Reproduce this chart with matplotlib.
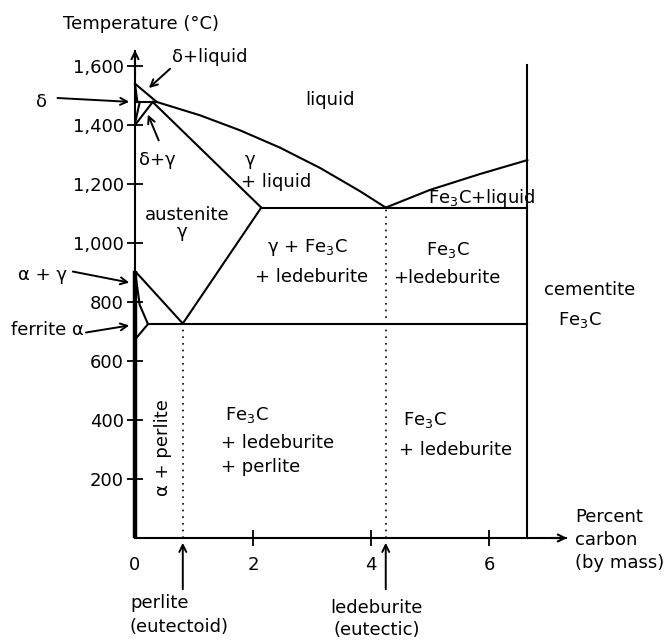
import numpy as np
from matplotlib import pyplot as plt

plt.rcParams['font.family'] = ['DejaVu Sans']
plt.rcParams['mathtext.default'] = 'regular'
FS = 13

# phase boundaries (wt% C, deg C)
liquidus_x = [0, 0.37, 1.10, 1.78, 2.46, 3.14, 3.81, 4.25]
liquidus_T = [1540, 1478, 1433, 1382, 1323, 1254, 1176, 1120]
fe3c_liq_x = [4.25, 5.0, 5.85, 6.65]
fe3c_liq_T = [1120, 1180, 1234, 1281]
solidus_x = [0.3, 2.14]
solidus_T = [1478, 1120]
acm_x = [0.81, 2.14]
acm_T = [727, 1120]
a3_x = [0, 0.81]
a3_T = [905, 727]
ferrite_x = [0, 0.08, 0.22, 0.03]
ferrite_T = [905, 790, 725, 680]
delta_sol_x = [0, 0.04]
delta_sol_T = [1540, 1478]
delta_solvus_x = [0.08, 0]
delta_solvus_T = [1478, 1405]
gamma_delta_x = [0.3, 0.02]
gamma_delta_T = [1478, 1405]
peritectic_x = [0.04, 0.37]
peritectic_T = 1478
eutectic_x = [2.14, 6.65]
eutectic_T = 1120
eutectoid_x = [0.22, 6.65]
eutectoid_T = 725
cementite_x = 6.65
cementite_top = 1603
perlite_pt = 0.81
ledeburite_pt = 4.25

y_ticks = [200, 400, 600, 800, 1000, 1200, 1400, 1600]
y_labels = ['200', '400', '600', '800', '1,000', '1,200', '1,400', '1,600']
x_ticks = [0, 2, 4, 6]
x_labels = ['0', '2', '4', '6']

fig = plt.figure(figsize=(6.66, 6.44), dpi=100)
ax = fig.add_axes([0, 0, 1, 1])
ax.set_xlim(-135 / 59, (666 - 135) / 59)
ax.set_ylim(-(644 - 538) / 0.295, 538 / 0.295)

for s in ['top', 'right']:
    ax.spines[s].set_visible(False)
ax.spines['left'].set_position(('data', 0))
ax.spines['bottom'].set_position(('data', 0))
ax.spines['left'].set_bounds(0, 1650)
ax.spines['bottom'].set_bounds(0, 7.3)
ax.spines['left'].set_linewidth(1.5)
ax.spines['bottom'].set_linewidth(1.5)
ax.set_yticks(y_ticks, y_labels)
ax.set_xticks(x_ticks, x_labels)
ax.tick_params(axis='y', direction='inout', length=12, width=1.3, labelsize=FS, pad=2)
ax.tick_params(axis='x', direction='inout', length=12, width=1.3, labelsize=FS, pad=7)
ax.xaxis.get_major_ticks()[0].tick1line.set_visible(False)

# axis arrows
ax.annotate('', xy=(0, 1664), xytext=(0, 1560),
            arrowprops=dict(arrowstyle='->,head_length=0.5,head_width=0.25', lw=1.5, color='black'))
ax.annotate('', xy=(7.37, 0), xytext=(7.0, 0),
            arrowprops=dict(arrowstyle='->,head_length=0.5,head_width=0.25', lw=1.5, color='black'))
ax.plot([0, 0], [0, a3_T[0]], color='black', lw=3.2, solid_capstyle='butt')

lk = dict(color='black', lw=1.5)
ax.plot(liquidus_x, liquidus_T, **lk)
ax.plot(fe3c_liq_x, fe3c_liq_T, **lk)
ax.plot(solidus_x, solidus_T, **lk)
ax.plot(acm_x, acm_T, **lk)
ax.plot(a3_x, a3_T, **lk)
ax.plot(ferrite_x, ferrite_T, **lk)
ax.plot(delta_sol_x, delta_sol_T, **lk)
ax.plot(delta_solvus_x, delta_solvus_T, **lk)
ax.plot(gamma_delta_x, gamma_delta_T, **lk)
ax.plot(peritectic_x, [peritectic_T] * 2, **lk)
ax.plot(eutectic_x, [eutectic_T] * 2, **lk)
ax.plot(eutectoid_x, [eutectoid_T] * 2, **lk)
ax.plot([cementite_x] * 2, [0, cementite_top], **lk)
ax.plot([perlite_pt] * 2, [0, eutectoid_T], color='black', lw=1.2, ls=(0, (1, 3)))
ax.plot([ledeburite_pt] * 2, [0, eutectic_T], color='black', lw=1.2, ls=(0, (1, 3)))

arr = dict(arrowstyle='->,head_length=0.5,head_width=0.25', lw=1.4, color='black')

def label(x, y, s, ha='center', **kw):
    ax.text(x, y, s, ha=ha, va='center', fontsize=FS, **kw)

label(0.10, 1742, 'Temperature (°C)')
label(1.27, 1631, 'δ+liquid')
ax.annotate('', xy=(0.2, 1519), xytext=(0.63, 1597), arrowprops=arr)
label(-1.58, 1478, 'δ')
ax.annotate('', xy=(-0.05, 1478), xytext=(-1.36, 1492), arrowprops=arr)
label(0.37, 1281, 'δ+γ')
ax.annotate('', xy=(0.2, 1444), xytext=(0.42, 1339), arrowprops=arr)
label(3.31, 1485, 'liquid')
label(1.95, 1281, 'γ')
label(2.39, 1207, '+ liquid')
label(0.88, 1095, 'austenite')
label(0.80, 1037, 'γ')
label(2.92, 986, 'γ + Fe$_3$C')
label(3.0, 885, '+ ledeburite')
label(5.31, 976, 'Fe$_3$C')
label(5.29, 881, '+ledeburite')
label(5.88, 1152, 'Fe$_3$C+liquid')
label(7.71, 841, 'cementite')
label(7.54, 739, 'Fe$_3$C')
label(-1.56, 892, 'α + γ')
ax.annotate('', xy=(-0.05, 864), xytext=(-1.10, 905), arrowprops=arr)
label(-1.49, 705, 'ferrite α')
ax.annotate('', xy=(-0.05, 722), xytext=(-0.88, 695), arrowprops=arr)
label(0.47, 308, 'α + perlite', rotation=90)
label(1.53, 417, 'Fe$_3$C', ha='left')
label(1.46, 322, '+ ledeburite', ha='left')
label(1.46, 241, '+ perlite', ha='left')
label(4.92, 400, 'Fe$_3$C')
label(5.44, 298, '+ ledeburite')
label(-0.085, -220, 'perlite', ha='left')
label(-0.085, -302, '(eutectoid)', ha='left')
ax.annotate('', xy=(perlite_pt, -7), xytext=(perlite_pt, -183), arrowprops=arr)
label(4.1, -237, 'ledeburite')
label(4.1, -312, '(eutectic)')
ax.annotate('', xy=(ledeburite_pt, -7), xytext=(ledeburite_pt, -183), arrowprops=arr)
label(7.46, 71, 'Percent', ha='left')
label(7.46, -7, 'carbon', ha='left')
label(7.46, -85, '(by mass)', ha='left')

fig.savefig('out.png', dpi=100)
